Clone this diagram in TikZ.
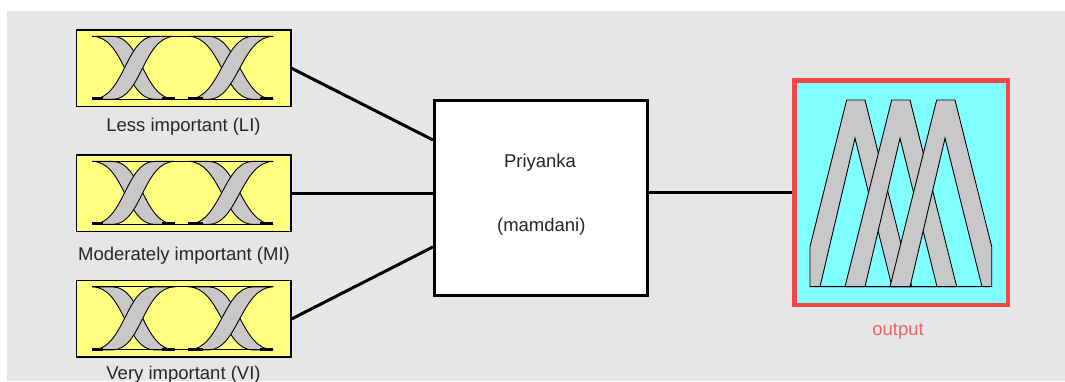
\documentclass[tikz,border=0pt]{standalone}
\usepackage{fontspec}
\setmainfont{Liberation Sans}
\usetikzlibrary{calc}
\definecolor{bg}{HTML}{E6E6E6}
\definecolor{inyellow}{HTML}{FFFF80}
\definecolor{outcyan}{HTML}{80FFFF}
\definecolor{outred}{HTML}{F04848}
\definecolor{outtext}{HTML}{E86464}
\definecolor{mfgray}{HTML}{C8C8C8}
\newcommand{\inicon}[1]{%
  \begin{scope}[shift={(#1)}]
    \draw[band] (-91.5,-32) -- (-71,-32) .. controls (-42,-32) and (-40.7,31) .. (-8.7,31) -- (-29.2,31) .. controls (-58,31) and (-59.5,-32) .. cycle;
    \draw[band] (-8.7,-32) -- (-29.2,-32) .. controls (-58,-32) and (-59.5,31) .. (-91.5,31) -- (-71,31) .. controls (-42,31) and (-40.7,-32) .. cycle;
    \draw[band] (4.6,-32) -- (25.1,-32) .. controls (54,-32) and (57.6,31) .. (89.6,31) -- (69.1,31) .. controls (40,31) and (36.6,-32) .. cycle;
    \draw[band] (89.6,-32) -- (69.1,-32) .. controls (40,-32) and (36.6,31) .. (4.6,31) -- (25.1,31) .. controls (54,31) and (57.6,-32) .. cycle;
    \draw[line width=0.9pt] (-91.5,-32) -- (89.6,-32);
    \draw[line width=0.9pt] (-91.5,31) -- (89.6,31);
    \draw[line width=3pt] (-91.5,30.5) -- (-80.4,30.5) (-22,30.5) -- (-8.7,30.5) (4.6,30.5) -- (19.6,30.5) (76.3,30.5) -- (89.6,30.5);
  \end{scope}}
\begin{document}
\begin{tikzpicture}[x=1pt,y=-1pt,
  inbox/.style={draw=black, line width=1.5pt, fill=inyellow, minimum width=214.5pt, minimum height=76.5pt, inner sep=0pt},
  cbox/.style={draw=black, line width=3pt, fill=white, minimum width=213pt, minimum height=195pt, inner sep=0pt},
  obox/.style={draw=outred, line width=4.5pt, fill=outcyan, minimum width=213.5pt, minimum height=224.5pt, inner sep=0pt},
  lbl/.style={font=\fontsize{18.5}{22}\selectfont, text=black!85, inner sep=0pt, anchor=base},
  olbl/.style={font=\fontsize{18.5}{22}\selectfont, text=outtext, inner sep=0pt, anchor=base},
  conn/.style={draw=black, line width=3pt},
  band/.style={fill=mfgray, draw=black, line width=0.9pt, even odd rule}]
\useasboundingbox (0,0) rectangle (1065,381);
\fill[white] (0,0) rectangle (1065,381);
\fill[bg] (7,11) rectangle (1065,381);

\node[inbox] (in1) at (183.7,68.3) {};
\node[inbox] (in2) at (183.7,193.4) {};
\node[inbox] (in3) at (183.7,318.9) {};
\node[cbox] (c) at (541,198) {};
\node[obox] (o) at (901,192.5) {};

\inicon{in1.center}
\inicon{in2.center}
\inicon{in3.center}

\node[lbl] (l1) at (183.5,131.5) {Less important (LI)};
\node[lbl] (l2) at (184,260.5) {Moderately important (MI)};
\node[lbl] (l3) at (183.5,379.5) {Very important (VI)};
\node[lbl] (t1) at (540,167.3) {Priyanka};
\node[lbl] (t2) at (541.3,231.7) {(mamdani)};
\node[olbl] (t3) at (898,335) {output};

\draw[conn] (in1.east) -- ($(c.north west)!0.207!(c.south west)$);
\draw[conn] (in2.east) -- (in2.east -| c.west);
\draw[conn] (in3.east) -- ($(c.north west)!0.747!(c.south west)$);
\draw[conn] (c.east |- o.west) -- (o.west);

\draw[band] (810,286.7) -- (810,246.7) -- (846.7,100) -- (865,100) -- (911.7,286.7) -- cycle
            (820,286.7) -- (855,138.3) -- (892,286.7) -- cycle;
\draw[band] (845,286.7) -- (891.7,100) -- (910,100) -- (956.7,286.7) -- cycle
            (865,286.7) -- (900,138.3) -- (937,286.7) -- cycle;
\draw[band] (890,286.7) -- (936.7,100) -- (955,100) -- (991.7,246.7) -- (991.7,286.7) -- cycle
            (910,286.7) -- (945,138.3) -- (982,286.7) -- cycle;
\draw[line width=1pt] (810,286.7) -- (991.7,286.7);
\end{tikzpicture}
\end{document}
